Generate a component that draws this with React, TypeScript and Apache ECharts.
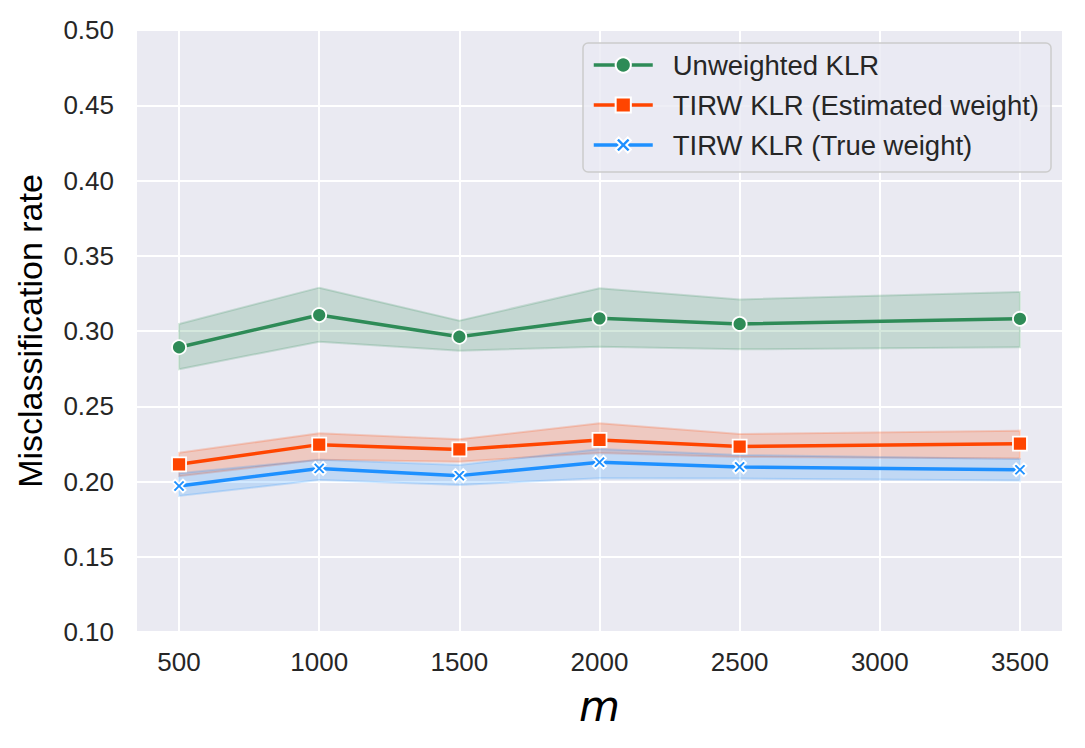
import React, { useEffect, useRef } from "react";
import * as echarts from "echarts";

const xValues = [500, 1000, 1500, 2000, 2500, 3500];
const xTicks = [500, 1000, 1500, 2000, 2500, 3000, 3500];
const yTicks = [0.1, 0.15, 0.2, 0.25, 0.3, 0.35, 0.4, 0.45, 0.5];

const seriesNames = [
  "Unweighted KLR",
  "TIRW KLR (Estimated weight)",
  "TIRW KLR (True weight)",
];

const unweightedMean = [0.2892, 0.3106, 0.2962, 0.3084, 0.3047, 0.3081];
const unweightedLower = [0.2746, 0.2929, 0.2869, 0.2895, 0.2878, 0.2892];
const unweightedUpper = [0.3047, 0.3288, 0.3069, 0.3284, 0.321, 0.3259];

const estimatedMean = [0.2114, 0.2245, 0.2213, 0.2276, 0.2232, 0.2251];
const estimatedLower = [0.2035, 0.2145, 0.2132, 0.219, 0.2163, 0.2152];
const estimatedUpper = [0.2191, 0.232, 0.228, 0.2387, 0.2316, 0.2338];

const trueMean = [0.197, 0.2087, 0.2039, 0.2128, 0.2097, 0.2078];
const trueLower = [0.1904, 0.201, 0.1977, 0.2022, 0.202, 0.2006];
const trueUpper = [0.2055, 0.2145, 0.211, 0.2216, 0.2176, 0.215];

const colors = ["#2E8B57", "#FF4500", "#1E90FF"];
const bandFills = ["rgba(46,139,87,0.2)", "rgba(255,69,0,0.2)", "rgba(30,144,255,0.2)"];
const bandStrokes = ["rgba(46,139,87,0.2)", "rgba(255,69,0,0.2)", "rgba(30,144,255,0.2)"];

const xSymbol =
  "path://M0,2 L2,0 L5,3 L8,0 L10,2 L7,5 L10,8 L8,10 L5,7 L2,10 L0,8 L3,5 Z";

function bandSeries(idx: number, lower: number[], upper: number[]) {
  return {
    type: "custom",
    id: "band" + idx,
    silent: true,
    z: 1,
    clip: true,
    data: xValues.map((x, i) => [x, lower[i], upper[i]]),
    encode: { x: 0, y: [1, 2] },
    renderItem: (params: any, api: any) => {
      if (params.dataIndex !== 0) return { type: "group", children: [] };
      const pts: number[][] = [];
      for (let i = 0; i < xValues.length; i++) pts.push(api.coord([xValues[i], upper[i]]));
      for (let i = xValues.length - 1; i >= 0; i--) pts.push(api.coord([xValues[i], lower[i]]));
      return {
        type: "polygon",
        shape: { points: pts },
        style: { fill: bandFills[idx], stroke: bandStrokes[idx], lineWidth: 2 },
      };
    },
  };
}

function lineSeries(idx: number, values: number[], symbol: string, size: number) {
  return {
    type: "line",
    name: seriesNames[idx],
    z: 3,
    data: xValues.map((x, i) => [x, values[i]]),
    symbol,
    symbolSize: size,
    showAllSymbol: true,
    lineStyle: { color: colors[idx], width: 3.5 },
    itemStyle: { color: colors[idx], borderColor: "#ffffff", borderWidth: 1.8 },
    emphasis: { disabled: true },
  };
}

export default function App() {
  const ref = useRef<HTMLDivElement>(null);
  useEffect(() => {
    if (!ref.current) return;
    const chart = echarts.init(ref.current, undefined, { renderer: "svg" });
    const font = "'Liberation Sans', Arial, sans-serif";
    chart.setOption({
      animation: false,
      textStyle: { fontFamily: font },
      grid: {
        left: 137,
        top: 30,
        right: 23,
        bottom: 116,
        show: true,
        backgroundColor: "#EAEAF2",
        borderWidth: 0,
      },
      legend: {
        data: seriesNames,
        orient: "vertical",
        left: 583,
        top: 43,
        padding: [7, 12, 12, 9],
        itemWidth: 59,
        itemHeight: 19,
        itemGap: 10,
        backgroundColor: "rgba(234,234,242,0.8)",
        borderColor: "#CCCCCC",
        borderWidth: 1.5,
        borderRadius: 5,
        lineStyle: { width: 3.5 },
        textStyle: {
          fontFamily: font,
          fontSize: 27.5,
          color: "#262626",
          lineHeight: 30,
          padding: [0, 0, 0, 15],
        },
      },
      xAxis: {
        type: "value",
        min: 350,
        max: 3650,
        name: "m",
        nameLocation: "middle",
        nameGap: 53,
        nameTextStyle: {
          fontFamily: "'DejaVu Sans', sans-serif",
          fontStyle: "italic",
          fontSize: 42,
          color: "#000000",
        },
        axisLine: { show: false },
        axisTick: { show: false, customValues: xTicks },
        axisLabel: {
          customValues: xTicks,
          fontSize: 26,
          color: "#262626",
          margin: 17,
          fontFamily: font,
          formatter: (v: number) => String(v),
        },
        splitLine: { show: true, lineStyle: { color: "#ffffff", width: 2 } },
      },
      yAxis: {
        type: "value",
        min: 0.1,
        max: 0.5,
        interval: 0.05,
        name: "Misclassification rate",
        nameLocation: "middle",
        nameGap: 90,
        nameTextStyle: { fontFamily: font, fontSize: 34, color: "#000000" },
        axisLine: { show: false },
        axisTick: { show: false },
        axisLabel: {
          fontSize: 26,
          color: "#262626",
          margin: 23,
          fontFamily: font,
          formatter: (v: number) => v.toFixed(2),
          customValues: yTicks,
        },
        splitLine: { show: true, lineStyle: { color: "#ffffff", width: 2 } },
      },
      series: [
        bandSeries(0, unweightedLower, unweightedUpper),
        bandSeries(1, estimatedLower, estimatedUpper),
        bandSeries(2, trueLower, trueUpper),
        lineSeries(0, unweightedMean, "circle", 14),
        lineSeries(1, estimatedMean, "rect", 14),
        lineSeries(2, trueMean, xSymbol, 13),
      ],
    });
    return () => chart.dispose();
  }, []);
  return (
    <div
      ref={ref}
      style={{ position: "fixed", left: 0, top: 0, width: 1085, height: 748, background: "#ffffff" }}
    />
  );
}
